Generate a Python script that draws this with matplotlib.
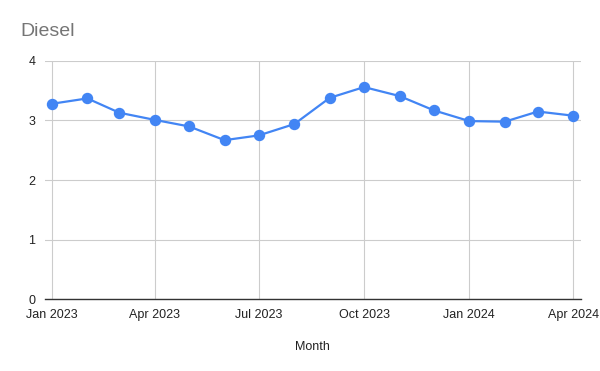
import numpy as np
import pandas as pd
import matplotlib
matplotlib.use('Agg')
import matplotlib.pyplot as plt
import matplotlib.dates as mdates

plt.rcParams['font.family'] = ['Liberation Sans', 'DejaVu Sans']

# data
months = pd.date_range('2023-01-01', '2024-04-01', freq='MS')
diesel = [3.28, 3.37, 3.13, 3.01, 2.90, 2.67, 2.75, 2.94,
          3.38, 3.56, 3.41, 3.17, 2.99, 2.98, 3.15, 3.08]
tick_months = pd.to_datetime(['2023-01-01', '2023-04-01', '2023-07-01',
                              '2023-10-01', '2024-01-01', '2024-04-01'])
tick_labels = ['Jan 2023', 'Apr 2023', 'Jul 2023', 'Oct 2023', 'Jan 2024', 'Apr 2024']
yticks = [0, 1, 2, 3, 4]

# --------------------------------------------------------------------------------------------------

fig = plt.figure(figsize=(6.0, 3.71), dpi=100)
ax = fig.add_axes([0.075, 0.193, 0.893, 0.643])

ax.plot(months, diesel, c='#4285f4', lw=1.6, marker='o', ms=7.2, zorder=3, clip_on=False)

ax.set_xlim(months[0] - pd.Timedelta(days=6), months[-1] + pd.Timedelta(days=6.5))
ax.set_ylim(0, 4)

ax.set_xticks(tick_months)
ax.set_xticklabels(tick_labels)
ax.set_yticks(yticks)
ax.set_yticklabels([str(v) for v in yticks])

ax.grid(True, c='#cccccc', lw=0.8)
ax.set_axisbelow(True)

for side in ['top', 'right', 'left']:
    ax.spines[side].set_visible(False)
ax.spines['bottom'].set_color('#333333')
ax.spines['bottom'].set_linewidth(1.0)
ax.spines['bottom'].set_zorder(4)

ax.tick_params(axis='both', length=0, labelsize=9, colors='#222222')
ax.tick_params(axis='x', pad=7)
ax.tick_params(axis='y', pad=7)

ax.set_xlabel('Month', fontsize=9, color='#222222', labelpad=14)

fig.text(0.034, 0.915, 'Diesel', fontsize=14, color='#757575', ha='left', va='center')

plt.savefig('out.png', dpi=100)
plt.close()
